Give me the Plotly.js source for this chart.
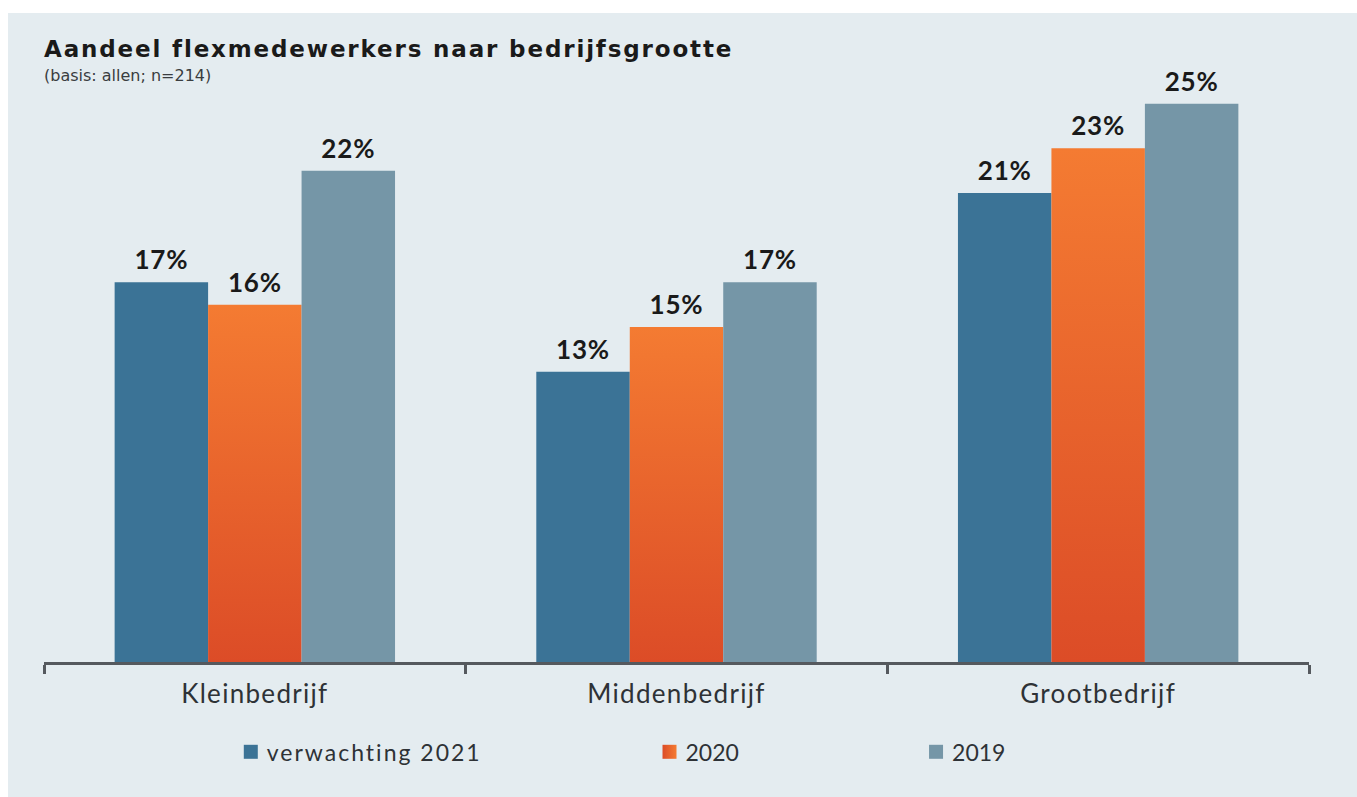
<!DOCTYPE html>
<html>
<head>
<meta charset="utf-8">
<script src="https://cdn.plot.ly/plotly-3.0.1.min.js"></script>
<style>
  html, body { margin: 0; padding: 0; background: #ffffff; width: 1357px; height: 797px; overflow: hidden; }
  #chart { position: absolute; left: 8px; top: 13px; width: 1349px; height: 784px; }
  #chart .gtitle { letter-spacing: 1.85px; }
  #chart .xtick text { letter-spacing: 1.3px; }
  #chart .legendtext { letter-spacing: 2px; }
  #chart .bartext { letter-spacing: 0.8px; }
  #chart .scrollbox { clip-path: none !important; }
</style>
</head>
<body>
<div id="chart"></div>
<script>
const categories = ['Kleinbedrijf', 'Middenbedrijf', 'Grootbedrijf'];
const seriesNames = ['verwachting 2021', '2020', '2019'];
const values2021 = [17, 13, 21];
const values2020 = [16, 15, 23];
const values2019 = [22, 17, 25];
const colors = ['#3b7396', '#ee6e30', '#7596a7'];

const FONT = 'Lato, "Open Sans", "DejaVu Sans", sans-serif';
const TITLE_FONT = '"DejaVu Sans", Lato, sans-serif';
const seriesValues = [values2021, values2020, values2019];
const legendIds = ['legend', 'legend2', 'legend3'];

const traces = seriesNames.map((name, i) => ({
  type: 'bar',
  name: name,
  x: categories,
  y: seriesValues[i],
  marker: { color: colors[i], line: { width: 0 } },
  texttemplate: '%{y}%',
  textposition: 'outside',
  cliponaxis: false,
  textfont: { family: FONT, size: 26, color: '#1a1a1a', weight: 'bold' },
  legend: legendIds[i],
  hoverinfo: 'skip'
}));

const legendBase = {
  orientation: 'h',
  yanchor: 'middle',
  y: -0.149,
  xanchor: 'left',
  bgcolor: 'rgba(0,0,0,0)',
  font: { family: FONT, size: 23, color: '#2e3236' },
  itemwidth: 30
};

const layout = {
  width: 1349,
  height: 784,
  paper_bgcolor: '#e4ecf0',
  plot_bgcolor: '#e4ecf0',
  margin: { l: 36, r: 48, t: 46, b: 135 },
  barmode: 'group',
  bargap: 0.335,
  bargroupgap: 0,
  title: {
    text: '<b>Aandeel flexmedewerkers naar bedrijfsgrootte</b>',
    font: { family: TITLE_FONT, size: 23, color: '#1a1a1a' },
    xref: 'container', x: 36 / 1349, xanchor: 'left',
    yref: 'container', y: 1 - 36 / 784, yanchor: 'middle'
  },
  annotations: [{
    text: '(basis: allen; n=214)',
    xref: 'paper', yref: 'paper',
    x: -0.0016, y: 0.972,
    xanchor: 'left', yanchor: 'middle',
    showarrow: false,
    font: { family: TITLE_FONT, size: 16, color: '#3a3d40' }
  }],
  xaxis: {
    type: 'category',
    showline: true,
    linecolor: '#55595e',
    linewidth: 3,
    ticks: 'outside',
    tickson: 'boundaries',
    ticklen: 9,
    tickwidth: 3,
    tickcolor: '#55595e',
    showgrid: false,
    tickfont: { family: FONT, size: 26, color: '#2e3236' },
    ticklabelstandoff: 7,
    fixedrange: true
  },
  yaxis: {
    range: [0, 27],
    visible: false,
    showgrid: false,
    zeroline: false,
    fixedrange: true
  },
  legend: Object.assign({}, legendBase, { x: 0.1445 }),
  legend2: Object.assign({}, legendBase, { x: 0.4755 }),
  legend3: Object.assign({}, legendBase, { x: 0.6862 }),
  showlegend: true
};

Plotly.newPlot('chart', traces, layout, { displayModeBar: false, staticPlot: true }).then(gd => {
  const svg = gd.querySelector('svg.main-svg');
  const ns = 'http://www.w3.org/2000/svg';
  let defs = svg.querySelector('defs');
  if (!defs) { defs = document.createElementNS(ns, 'defs'); svg.insertBefore(defs, svg.firstChild); }
  function grad(id, x2, y2, c1, c2) {
    const g = document.createElementNS(ns, 'linearGradient');
    g.setAttribute('id', id);
    g.setAttribute('x1', '0'); g.setAttribute('y1', '0');
    g.setAttribute('x2', x2); g.setAttribute('y2', y2);
    const s1 = document.createElementNS(ns, 'stop');
    s1.setAttribute('offset', '0'); s1.setAttribute('stop-color', c1);
    const s2 = document.createElementNS(ns, 'stop');
    s2.setAttribute('offset', '1'); s2.setAttribute('stop-color', c2);
    g.appendChild(s1); g.appendChild(s2);
    defs.appendChild(g);
  }
  grad('orangeV', '0', '1', '#f47b32', '#dc4c27');
  grad('orangeH', '1', '0', '#dc4c27', '#f47b32');
  const barTraces = gd.querySelectorAll('.barlayer .trace');
  if (barTraces[1]) {
    barTraces[1].querySelectorAll('.point path').forEach(p => { p.style.fill = 'url(#orangeV)'; });
  }
  gd.querySelectorAll('.legendpoints path').forEach(p => { p.setAttribute('d', 'M11,7H-3V-7H11Z'); });
  gd.querySelectorAll('g.legend2 .legendpoints path').forEach(p => { p.style.fill = 'url(#orangeH)'; });
  gd.querySelectorAll('text.bartext').forEach(t => {
    const y = parseFloat(t.getAttribute('y') || '0');
    t.setAttribute('y', String(y - 4));
  });
});
</script>
</body>
</html>
